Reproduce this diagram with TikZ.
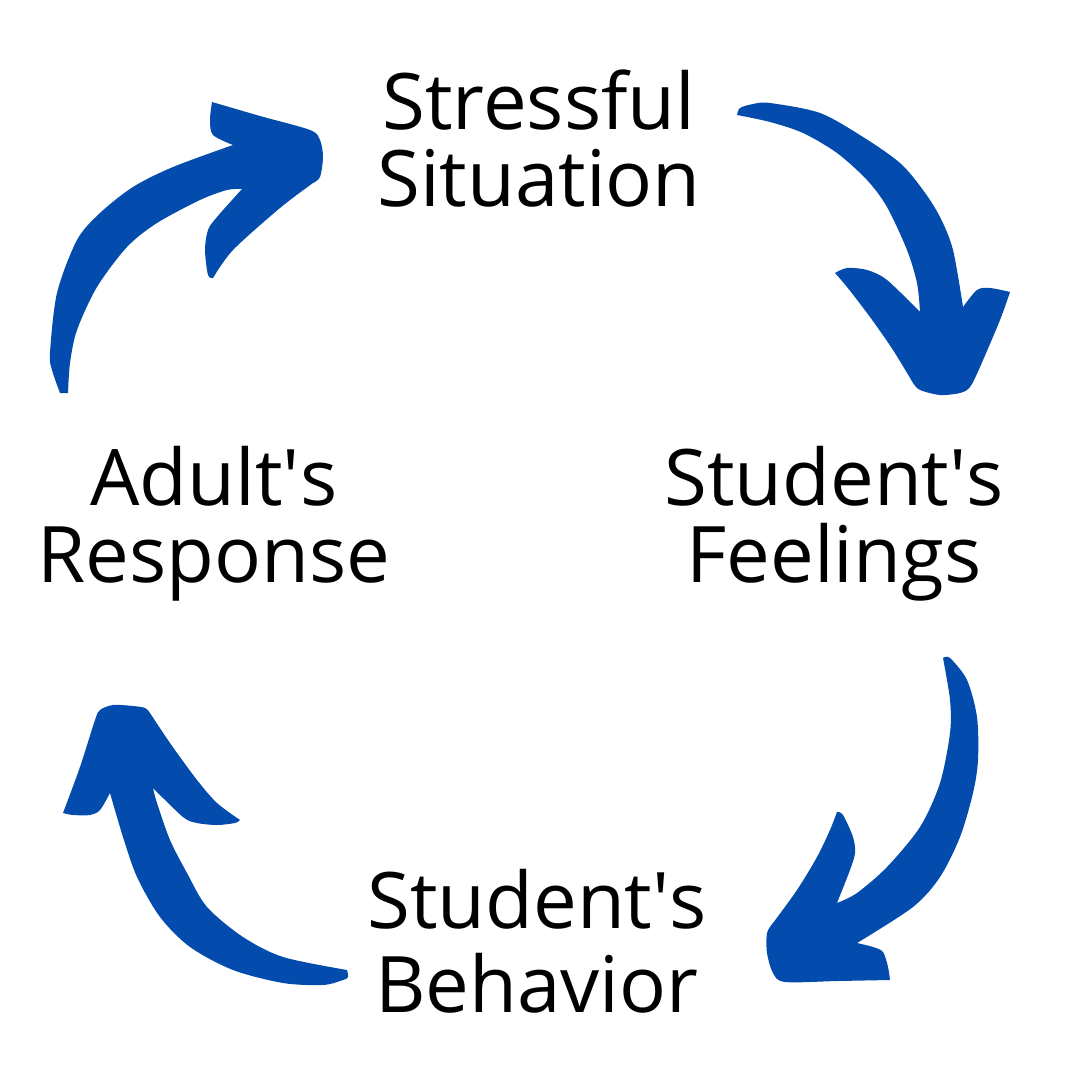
\documentclass[tikz,border=0pt]{standalone}
\usepackage{fontspec}
\setmainfont{Open Sans}
\usepackage{xcolor}
\definecolor{cycleblue}{HTML}{034CAD}

\begin{document}
\begin{tikzpicture}[x=0.5pt, y=-0.5pt,
      stage/.style={align=center, anchor=base, inner sep=0pt,
        font=\fontsize{39}{38.5}\selectfont},
      swoosh/.style={fill=cycleblue, draw=none}
      ]
      \useasboundingbox (0,0) rectangle (1080,1080);
      % stages of the cycle
      \node[stage] (stress) at (539,207) {Stressful\\Situation};
      \node[stage] (feel) at (834,582) {Student\textquotesingle s\\Feelings};
      \node[stage, font=\fontsize{39}{42}\selectfont] (behave) at (537,1012) {Student\textquotesingle s\\Behavior};
      \node[stage] (respond) at (214,582) {Adult\textquotesingle s\\Response};
      % response -> situation
      \fill[swoosh] plot[smooth] coordinates {(60,393) (52,370) (50,353) (57,293) (77,240) (100,213) (133,187) (173,167) (233,145)}
        -- plot[smooth] coordinates {(233,145) (213,135) (210,120) (212,102)}
        -- plot[smooth] coordinates {(212,102) (260,116) (310,130) (320,140) (323,157) (320,177) (313,183)}
        -- plot[smooth] coordinates {(313,183) (280,208) (233,250) (213,278)}
        -- plot[smooth] coordinates {(213,278) (208,275) (205,250) (208,230) (217,217) (242,189)}
        -- plot[smooth] coordinates {(242,189) (227,190) (200,200) (157,223) (127,247) (97,287) (77,330) (70,363) (68,393)}
        -- cycle;
      % situation -> feelings
      \fill[swoosh] plot[smooth] coordinates {(737,115) (740,108) (753,104) (770,103) (820,113) (863,137) (900,163) (923,190) (940,217) (953,250) (963,307)}
        -- plot[smooth] coordinates {(963,307) (977,290) (990,288) (1010,292)}
        -- plot[smooth] coordinates {(1010,292) (1000,320) (980,367) (970,387) (960,393) (940,395) (920,390) (913,383)}
        -- plot[smooth] coordinates {(913,383) (893,350) (870,317) (847,287) (835,273)}
        -- plot[smooth] coordinates {(835,273) (847,268) (867,270) (887,280) (920,312)}
        -- plot[smooth] coordinates {(920,312) (917,283) (907,250) (887,207) (867,180) (837,153) (803,133) (770,122) (737,115)}
        -- cycle;
      % feelings -> behavior
      \fill[swoosh] plot[smooth] coordinates {(943,658) (950,658) (967,680) (977,717) (978,760) (973,793) (960,837) (940,877) (913,907) (857,943)}
        -- plot[smooth] coordinates {(857,943) (873,947) (883,952) (888,967) (890,980)}
        -- plot[smooth] coordinates {(890,980) (838,981) (785,982) (773,973) (767,953) (767,933) (773,923)}
        -- plot[smooth] coordinates {(773,923) (797,890) (817,857) (830,830) (837,812)}
        -- plot[smooth] coordinates {(837,812) (843,815) (853,837) (855,853) (850,870) (837,903)}
        -- plot[smooth] coordinates {(837,903) (857,893) (887,867) (920,827) (940,783) (950,733) (950,700) (943,658)}
        -- cycle;
      % behavior -> response
      \fill[swoosh] plot[smooth] coordinates {(347,970) (348,977) (343,980) (323,985) (283,983) (233,970) (190,947) (160,917) (137,877) (123,837) (110,793)}
        -- plot[smooth] coordinates {(110,793) (100,810) (90,815) (73,815) (63,813)}
        -- plot[smooth] coordinates {(63,813) (80,767) (95,720) (100,710) (113,705) (133,706) (145,708) (150,713)}
        -- plot[smooth] coordinates {(150,713) (170,743) (197,780) (217,803) (240,820)}
        -- plot[smooth] coordinates {(240,820) (235,823) (217,825) (197,823) (183,817) (153,788)}
        -- plot[smooth] coordinates {(153,788) (157,803) (170,840) (187,873) (207,907) (243,937) (283,957) (347,970)}
        -- cycle;
    \end{tikzpicture}
\end{document}
